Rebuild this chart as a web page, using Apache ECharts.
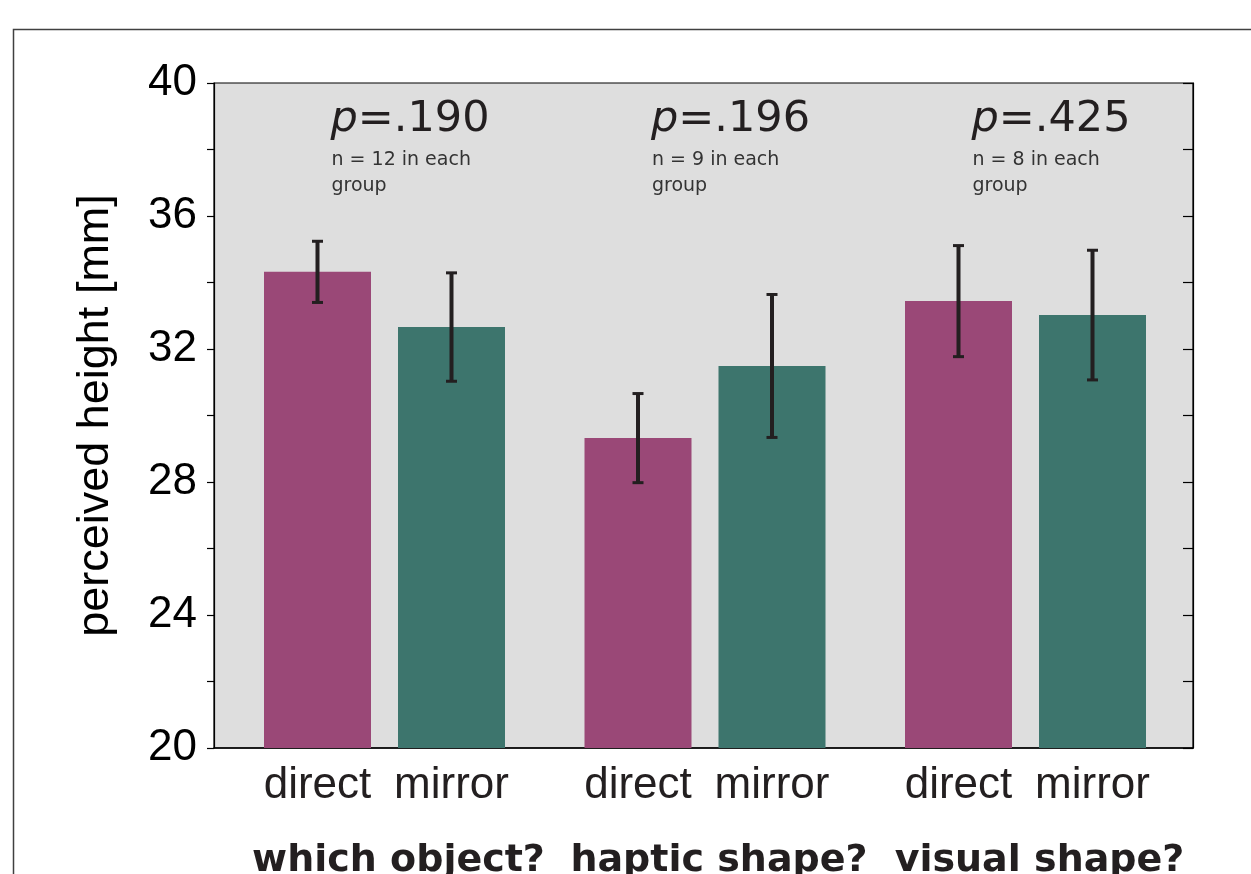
<!DOCTYPE html>
<html><head><meta charset="utf-8">
<script src="https://cdn.jsdelivr.net/npm/echarts@6/dist/echarts.min.js"></script>
<style>html,body{margin:0;padding:0;background:#fff}#c{width:1251px;height:874px}</style>
</head><body><div id="c"></div>
<script>
// ---- data ----
const groups = ['which object?', 'haptic shape?', 'visual shape?'];
const conditions = ['direct', 'mirror'];
const directMean = [34.32, 29.32, 33.44];
const directErr = [0.92, 1.34, 1.67];
const mirrorMean = [32.66, 31.49, 33.02];
const mirrorErr = [1.63, 2.15, 1.95];
const pValues = ['.190', '.196', '.425'];
const nPerGroup = [12, 9, 8];
const yMin = 20, yMax = 40, yStep = 2, yLabelStep = 4;
const yTitle = 'perceived height [mm]';

// ---- style / layout ----
const BAR_W = 107, GAP_PX = 27;
const C_DIRECT = '#9a4877', C_MIRROR = '#3d756d', INK = '#231f20';
const SANS = '"Liberation Sans", Arial, sans-serif';
const DJ = '"DejaVu Sans", sans-serif';

const errData = [];
groups.forEach((g, i) => {
  errData.push([i, 0, directMean[i], directErr[i]]);
  errData.push([i, 1, mirrorMean[i], mirrorErr[i]]);
});
const noteData = groups.map((g, i) => [i, yMax]);

function renderErr(params, api) {
  const g = api.value(0), s = api.value(1), m = api.value(2), e = api.value(3);
  const c = api.coord([g, m]);
  const x = c[0] + (s === 0 ? -1 : 1) * (BAR_W + GAP_PX) / 2;
  const yt = api.coord([g, m + e])[1];
  const yb = api.coord([g, m - e])[1];
  const st = { fill: INK };
  return { type: 'group', children: [
    { type: 'rect', shape: { x: x - 2, y: yt, width: 4, height: yb - yt }, style: st },
    { type: 'rect', shape: { x: x - 5.5, y: yt - 1.5, width: 11, height: 3 }, style: st },
    { type: 'rect', shape: { x: x - 5.5, y: yb - 1.5, width: 11, height: 3 }, style: st }
  ]};
}

function renderNote(params, api) {
  const g = api.value(0);
  const c = api.coord([g, api.value(1)]);
  const x = c[0] - 54;
  return { type: 'group', children: [
    { type: 'text', x: x, y: c[1] + 37, style: {
        text: '{i|p}{r|=' + pValues[g] + '}',
        align: 'left', verticalAlign: 'middle',
        rich: {
          i: { fontFamily: DJ, fontSize: 43, fontStyle: 'italic', fill: INK, color: INK },
          r: { fontFamily: DJ, fontSize: 43, fill: INK, color: INK }
        } } },
    { type: 'text', x: x + 1, y: c[1] + 64, style: {
        text: 'n = ' + nPerGroup[g] + ' in each\ngroup',
        fontFamily: DJ, fontSize: 19, fill: '#333', lineHeight: 26,
        align: 'left', verticalAlign: 'top' } }
  ]};
}

const chart = echarts.init(document.getElementById('c'), null, { renderer: 'canvas' });
chart.setOption({
  animation: false,
  backgroundColor: '#fff',
  graphic: [{
    type: 'rect', z: -10, silent: true,
    shape: { x: 13.5, y: 29.5, width: 1400, height: 1000 },
    style: { fill: 'none', stroke: '#404040', lineWidth: 1.5 }
  }],
  grid: [
    { left: 214, top: 83, width: 979, height: 665, show: true, backgroundColor: '#dedede',
      borderColor: '#000', borderWidth: 1.2, outerBoundsMode: 'none', containLabel: false },
    { left: 224.25, top: 83, width: 961.5, height: 665, show: false, outerBoundsMode: 'none', containLabel: false }
  ],
  xAxis: [
    { gridIndex: 0, type: 'value', min: 0, max: 1,
      axisLine: { show: true, onZero: false, lineStyle: { color: '#000', width: 1.5 } },
      axisTick: { show: false }, axisLabel: { show: false }, splitLine: { show: false } },
    { gridIndex: 1, type: 'category', data: groups,
      axisLine: { show: false }, axisTick: { show: false }, splitLine: { show: false },
      axisLabel: { margin: 94, fontFamily: DJ, fontWeight: 'bold', fontSize: 38, color: INK,
        padding: [0, 0, 0, 28], interval: 0 } }
  ],
  yAxis: [
    { gridIndex: 0, type: 'value', min: yMin, max: yMax, interval: yStep, position: 'left',
      axisLine: { show: true, lineStyle: { color: '#000', width: 1.2 } },
      axisTick: { show: true, inside: false, length: 7, lineStyle: { color: '#000', width: 1.2 } },
      axisLabel: { margin: 17, fontFamily: SANS, fontSize: 44, color: '#000',
        formatter: v => ((v - yMin) % yLabelStep === 0 ? String(v) : '') },
      splitLine: { show: false },
      name: yTitle, nameLocation: 'middle', nameGap: 96,
      nameTextStyle: { fontFamily: SANS, fontSize: 45, color: '#000' } },
    { gridIndex: 0, type: 'value', min: yMin, max: yMax, interval: yStep, position: 'right',
      axisLine: { show: true, lineStyle: { color: '#000', width: 1.2 } },
      axisTick: { show: true, inside: true, length: 10, lineStyle: { color: '#000', width: 1.2 } },
      axisLabel: { show: false }, splitLine: { show: false } },
    { gridIndex: 1, type: 'value', min: yMin, max: yMax, show: false, splitLine: { show: false } }
  ],
  series: [
    { name: conditions[0], type: 'bar', xAxisIndex: 1, yAxisIndex: 2, data: directMean,
      barWidth: BAR_W, barGap: (GAP_PX / BAR_W * 100) + '%',
      itemStyle: { color: C_DIRECT },
      label: { show: true, position: 'bottom', distance: 16, formatter: '{a}',
        fontFamily: SANS, fontSize: 44, color: INK } },
    { name: conditions[1], type: 'bar', xAxisIndex: 1, yAxisIndex: 2, data: mirrorMean,
      barWidth: BAR_W, barGap: (GAP_PX / BAR_W * 100) + '%',
      itemStyle: { color: C_MIRROR },
      label: { show: true, position: 'bottom', distance: 16, formatter: '{a}',
        fontFamily: SANS, fontSize: 44, color: INK } },
    { name: 'sd', type: 'custom', xAxisIndex: 1, yAxisIndex: 2, data: errData,
      encode: { x: 0, y: 2 }, renderItem: renderErr, z: 5, clip: false },
    { name: 'notes', type: 'custom', xAxisIndex: 1, yAxisIndex: 2, data: noteData,
      encode: { x: 0, y: 1 }, renderItem: renderNote, z: 6, clip: false }
  ]
});
</script></body></html>
